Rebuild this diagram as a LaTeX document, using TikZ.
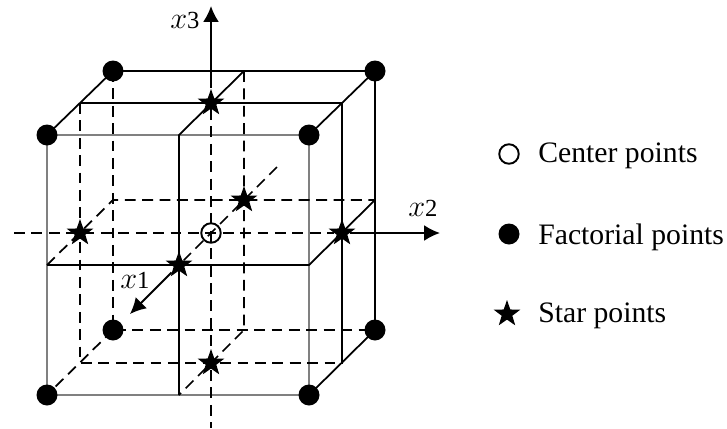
\documentclass[tikz,border=0pt]{standalone}
\usepackage{fontspec}
\setmainfont{Liberation Serif}
\usetikzlibrary{arrows.meta,shapes.geometric}
\tikzset{
  axisarrow/.style={-{Latex[length=9pt,width=9pt]}, line width=1.1pt},
  edge/.style={line width=1pt},
  frontedge/.style={line width=0.9pt, black!50},
  thickedge/.style={line width=1.4pt},
  hiddenedge/.style={line width=1pt, dash pattern=on 6.2pt off 3.7pt},
  factorial/.style={circle, fill=black, inner sep=0pt, minimum size=0.42cm},
  centerpt/.style={circle, draw, line width=1.1pt, inner sep=0pt, minimum size=0.39cm},
  starpt/.style={star, star points=5, star point ratio=2.5, fill=black, inner sep=0pt, minimum size=0.56cm},
  axislabel/.style={font=\fontsize{14}{17}\selectfont, anchor=base west, inner sep=0pt},
  legendlabel/.style={font=\fontsize{16.9}{20}\selectfont, anchor=base west, inner sep=0pt}
}
\newcommand{\axisvar}{{\fontsize{18}{20}\selectfont$x$}}
\begin{document}
\begin{tikzpicture}
  \useasboundingbox (0,0) rectangle (14.54,8.56);
  % corners
  \coordinate (ftl) at (0.94,5.86);
  \coordinate (ftr) at (6.18,5.86);
  \coordinate (fbl) at (0.94,0.66);
  \coordinate (fbr) at (6.18,0.66);
  \coordinate (btl) at (2.26,7.14);
  \coordinate (btr) at (7.50,7.14);
  \coordinate (bbl) at (2.26,1.96);
  \coordinate (bbr) at (7.50,1.96);
  % middle planes
  \coordinate (ptl) at (1.60,6.50);
  \coordinate (ptr) at (6.84,6.50);
  \coordinate (pbl) at (1.60,1.30);
  \coordinate (pbr) at (6.84,1.30);
  \coordinate (qfu) at (3.58,5.86);
  \coordinate (qbu) at (4.88,7.14);
  \coordinate (qfd) at (3.58,0.66);
  \coordinate (qbd) at (4.88,1.96);
  \coordinate (rfl) at (0.94,3.26);
  \coordinate (rfr) at (6.18,3.26);
  \coordinate (rbr) at (7.50,4.56);
  \coordinate (rbl) at (2.26,4.56);
  % axis ends
  \coordinate (x3top) at (4.22,8.44);
  \coordinate (x3end) at (4.22,0);
  \coordinate (x2top) at (8.80,3.90);
  \coordinate (x2end) at (0.28,3.90);
  \coordinate (x1top) at (2.60,2.28);
  \coordinate (x1end) at (5.54,5.22);

  \draw[frontedge] (ftl) -- (ftr) -- (fbr) -- (fbl) -- cycle;
  \draw[hiddenedge] (btl) -- (bbl) -- (bbr);
  \draw[hiddenedge] (bbl) -- (fbl);
  \draw[hiddenedge] (ptl) -- (pbl) -- (pbr);
  \draw[hiddenedge] (qbu) -- (qbd) -- (qfd);
  \draw[hiddenedge] (rfl) -- (rbl) -- (rbr);
  \draw[edge] (ftl) -- (btl) -- (btr) -- (bbr) -- (fbr);
  \draw[edge] (ftr) -- (btr);
  \draw[edge] (ptl) -- (ptr);
  \draw[thickedge] (ptr) -- (pbr);
  \draw[edge] (qbu) -- (qfu) -- (qfd);
  \draw[edge] (rfl) -- (rfr) -- (rbr);

  \node[starpt] (startop) at (4.22,6.50) {};
  \node[starpt] (starbot) at (4.22,1.30) {};
  \node[starpt] (starleft) at (1.60,3.90) {};
  \node[starpt] (starright) at (6.84,3.90) {};
  \node[starpt] (starback) at (4.88,4.56) {};
  \node[starpt] (starfront) at (3.58,3.26) {};
  \node[centerpt] (center) at (4.22,3.90) {};

  \draw[hiddenedge] (startop) -- (x3end);
  \draw[axisarrow] (startop) -- (x3top);
  \draw[hiddenedge] (x2end) -- (starright);
  \draw[axisarrow] (starright) -- (x2top);
  \draw[hiddenedge] (x1end) -- (starfront);
  \draw[axisarrow] (starfront) -- (x1top);

  \node[factorial] (nftl) at (ftl) {};
  \node[factorial] (nftr) at (ftr) {};
  \node[factorial] (nfbl) at (fbl) {};
  \node[factorial] (nfbr) at (fbr) {};
  \node[factorial] (nbtl) at (btl) {};
  \node[factorial] (nbtr) at (btr) {};
  \node[factorial] (nbbl) at (bbl) {};
  \node[factorial] (nbbr) at (bbr) {};

  \node[axislabel] (labx3) at (3.40,8.00) {\axisvar 3};
  \node[axislabel] (labx2) at (8.16,4.24) {\axisvar 2};
  \node[axislabel] (labx1) at (2.40,2.80) {\axisvar 1};

  % legend
  \node[centerpt] (legcenter) at (10.18,5.48) {};
  \node[factorial] (legfact) at (10.18,3.88) {};
  \node[starpt] (legstar) at (10.14,2.28) {};
  \node[legendlabel] (txtcenter) at (10.76,5.32) {Center points};
  \node[legendlabel] (txtfact) at (10.76,3.68) {Factorial points};
  \node[legendlabel] (txtstar) at (10.76,2.12) {Star points};
\end{tikzpicture}
\end{document}
